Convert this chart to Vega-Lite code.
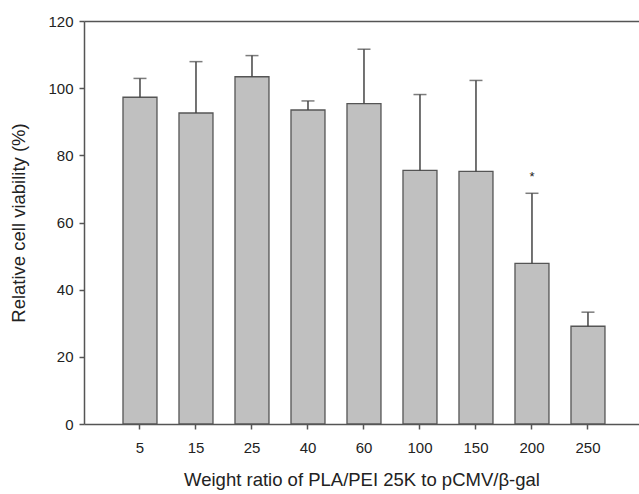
{
  "$schema": "https://vega.github.io/schema/vega-lite/v6.json",
  "width": 555,
  "height": 403,
  "autosize": "none",
  "padding": {"left": 84, "top": 21, "right": 0, "bottom": 70},
  "background": "white",
  "config": {
    "view": {"stroke": null},
    "font": "Liberation Sans",
    "axis": {
      "grid": false,
      "domainColor": "#555555",
      "domainWidth": 1.5,
      "tickColor": "#555555",
      "tickWidth": 1.5,
      "tickSize": 5,
      "labelColor": "#222222",
      "labelFontSize": 15,
      "titleColor": "#222222",
      "titleFontSize": 18.5,
      "titleFontWeight": "normal"
    }
  },
  "data": {
    "values": [
      {"ratio": "5", "value": 97.3, "upper": 102.9},
      {"ratio": "15", "value": 92.6, "upper": 107.9},
      {"ratio": "25", "value": 103.4, "upper": 109.7},
      {"ratio": "40", "value": 93.5, "upper": 96.2},
      {"ratio": "60", "value": 95.4, "upper": 111.6},
      {"ratio": "100", "value": 75.5, "upper": 98.1},
      {"ratio": "150", "value": 75.2, "upper": 102.3},
      {"ratio": "200", "value": 47.8, "upper": 68.7, "star": "*", "starPos": 72.5},
      {"ratio": "250", "value": 29.1, "upper": 33.3}
    ]
  },
  "resolve": {"axis": {"x": "independent"}},
  "layer": [
    {
      "mark": {"type": "bar", "fill": "#c0c0c0", "stroke": "#555555", "strokeWidth": 1.3},
      "encoding": {
        "x": {
          "field": "ratio", "type": "ordinal", "sort": null,
          "scale": {"paddingInner": 0.393, "paddingOuter": 0.652, "align": 0.534},
          "axis": {"labelAngle": 0, "labelPadding": 11, "titlePadding": 15, "title": "Weight ratio of PLA/PEI 25K to pCMV/β-gal"}
        },
        "y": {
          "field": "value", "type": "quantitative",
          "scale": {"domain": [0, 120], "nice": false},
          "axis": {"values": [0, 20, 40, 60, 80, 100, 120], "labelPadding": 6, "titlePadding": 19, "title": "Relative cell viability (%)"}
        }
      }
    },
    {
      "mark": {"type": "rule", "color": "#444444", "strokeWidth": 1.5},
      "encoding": {
        "x": {"field": "ratio", "type": "ordinal", "sort": null,
          "axis": {"orient": "top", "labels": false, "ticks": false, "title": null, "domain": true}},
        "y": {"field": "value", "type": "quantitative"},
        "y2": {"field": "upper"}
      }
    },
    {
      "mark": {"type": "tick", "color": "#444444", "thickness": 1.5, "size": 13, "orient": "horizontal"},
      "encoding": {
        "x": {"field": "ratio", "type": "ordinal", "sort": null, "axis": null},
        "y": {"field": "upper", "type": "quantitative"}
      }
    },
    {
      "mark": {"type": "text", "fontSize": 13, "color": "#222222", "baseline": "alphabetic"},
      "transform": [{"filter": "datum.star"}],
      "encoding": {
        "x": {"field": "ratio", "type": "ordinal", "sort": null, "axis": null},
        "y": {"field": "starPos", "type": "quantitative"},
        "text": {"field": "star"}
      }
    }
  ]
}
